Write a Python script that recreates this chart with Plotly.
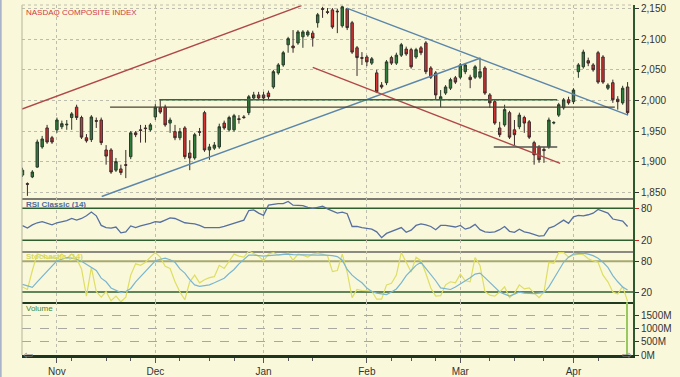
import plotly.graph_objects as go

# ---------------- data ----------------
opens = [1878,1864,1875,1891,1924,1955,1939,1952,1957,1960,1972,1989,1972,1939,1936,1967,1968,1919,1919,1886,
         1888,1895,1908,1947,1952,1955,1952,1973,1988,1989,1963,1949,1939,1955,1914,1906,1949,1980,1919,1922,
         1924,1963,1952,1952,1970,1973,1980,2004,2009,2009,2012,2022,2045,2058,2091,2089,2094,2104,2107,2110,
         2127,2150,2145,2148,2146,2122,2150,2127,2086,2070,2071,2061,2045,2025,2029,2070,2061,2074,2084,2083,
         2071,2086,2094,2053,2045,2001,2012,2020,2037,2038,2047,2038,2038,2038,2053,2009,1998,1955,1960,1980,
         1952,1957,1972,1965,1931,1924,1920,1924,1963,1976,1988,2001,1998,2047,2055,2065,2058,2078,2071,2020,
         2029,2002,1996,2022]
highs = [1890,1866,1886,1936,1942,1960,1942,1972,1967,1968,1981,1993,1975,1945,1976,1972,1972,1927,1922,1906,
         1895,1919,1950,1950,1960,1960,1963,1994,2001,1993,1972,1960,1955,1958,1935,1947,1955,1983,1929,1932,
         1962,1967,1975,1978,1976,1976,2009,2014,2014,2014,2016,2050,2061,2081,2104,2115,2115,2115,2115,2114,
         2143,2153,2151,2151,2150,2155,2151,2130,2089,2079,2074,2071,2050,2030,2066,2073,2078,2094,2088,2086,
         2086,2089,2097,2056,2048,2017,2025,2037,2040,2061,2061,2042,2058,2070,2056,2012,2001,1965,1993,1983,
         1968,1980,1975,1968,1934,1927,1924,1972,1966,1996,2004,2006,2020,2061,2083,2070,2061,2081,2074,2028,
         2034,2007,2024,2030]
lows = [1875,1844,1873,1890,1921,1929,1929,1947,1953,1952,1952,1968,1937,1931,1932,1955,1927,1895,1880,1883,
        1878,1873,1904,1940,1931,1931,1949,1968,1978,1957,1947,1935,1935,1904,1886,1903,1942,1916,1903,1919,
        1921,1952,1949,1949,1962,1970,1976,2001,2001,1999,2001,2019,2042,2055,2078,2078,2091,2086,2104,2088,
        2119,2135,2141,2117,2110,2119,2115,2076,2040,2058,2056,2058,2012,2019,2025,2058,2058,2071,2073,2052,
        2068,2074,2043,2035,2001,1989,2009,2017,2027,2035,2043,2020,2035,2035,2009,1988,1960,1940,1957,1937,
        1927,1953,1947,1937,1895,1898,1898,1921,1961,1973,1985,1993,1994,2037,2052,2056,2047,2027,2027,2017,
        1996,1985,1993,1976]
closes = [1886,1863,1883,1932,1937,1932,1932,1968,1962,1961,1978,1972,1940,1934,1973,1966,1931,1909,1883,1900,
          1882,1894,1947,1944,1951,1954,1960,1989,1981,1960,1968,1939,1949,1908,1906,1944,1948,1919,1924,1927,
          1957,1955,1972,1975,1969,1972,2006,2009,2004,2004,2006,2047,2058,2078,2101,2086,2112,2112,2112,2102,
          2140,2149,2144,2120,2145,2153,2119,2079,2070,2069,2063,2068,2014,2022,2063,2061,2074,2091,2076,2055,
          2083,2078,2047,2038,2009,2006,2022,2034,2030,2058,2058,2034,2055,2047,2012,1996,1963,1944,1985,1940,
          1944,1976,1963,1940,1911,1903,1918,1968,1964,1993,2001,1996,2017,2058,2079,2061,2050,2030,2030,2025,
          2001,1998,2020,1980]

rsi = [47.6,43,49,53,55,52,49,53,55,57,61,58,61,66,73,66,48,44,43,45,
       34,36,47,44,47,49,52,55,54,58,62,61,57,53,52,51,48,44,44,44,
       44,46,49,52,55,58,76,77,71,67,86,88,89,89,93,86,86,85,82,80,
       82,84,79,75,71,73,70,46,46,44,43,41,36,25,33,37,41,44,35,39,
       48,51,49,46,40,48,48,46,45,48,41,44,50,40,36,35,36,40,46,37,
       35,41,36,34,31,28,29,43,46,52,58,52,64,67,66,68,71,78,74,71,
       60,58,56,46]

stoch_k = [30,25,62,94,91,85,88,85,94,86,94,85,65,12,68,21,10,21,3,12,
           1,10,53,75,72,78,88,97,88,70,66,40,20,5,40,53,38,44,48,50,
           72,66,80,94,90,88,100,95,90,81,94,97,92,94,96,82,94,92,88,94,
           96,94,91,60,62,94,59,9,25,23,22,22,6,6,34,37,53,97,78,59,
           88,81,56,28,12,13,34,40,38,55,42,40,87,72,21,14,12,20,30,9,
           18,34,26,28,18,9,20,78,76,97,97,88,92,94,93,85,81,78,53,40,
           20,16,31,2]

stoch_d = [35,32,29,40,50,62,72,81,84,87,86,84,80,74,68,62,47,40,28,23,
           19,21,27,40,50,62,72,81,84,86,83,78,65,57,44,34,31,32,34,38,
           42,47,56,64,75,84,92,92,91,90,91,92,92,93,94,93,92.6,92,92,92,
           92,92.6,92,91,89,82,64,53,45,38,28,21,18,16,15,20,26,38,52,62,
           72,78,66,56,42,28,26,25,30,36,41,48,55,57,48,38,28,20,16,12,
           16,20,18,17,17,18,19,30,47,62,78,88,94,95,96,94,91,86,78,68,
           52,40,30,24]

volume_m = [0] * 123 + [2000]

month_labels = ["Nov", "Dec", "Jan", "Feb", "Mar", "Apr"]
month_idx = [7, 27, 49, 70, 89, 112]
week_idx = [10, 17, 22, 32, 38, 43, 54, 59, 75, 79, 84, 95, 100, 106, 117]

price_ticks = [1850, 1900, 1950, 2000, 2050, 2100, 2150]
osc_ticks = [20, 80]
vol_ticks = [0, 500, 1000, 1500]
vol_labels = ["0M", "500M", "1000M", "1500M"]

# trend lines drawn on the price panel: (x indices, prices, colour)
trend_lines = [
    ([-0.1, 56.7], [1986, 2155], "#b04848"),
    ([16.1, 93.0], [1843, 2069], "#5b86aa"),
    ([65.9, 123.1], [2151, 1976], "#5b86aa"),
    ([59.0, 109.3], [2054, 1897], "#b04848"),
    ([27.8, 108.7], [2001, 2001], "#2f6b3a"),
    ([17.8, 120.4], [1989, 1989], "#4a4232"),
    ([95.8, 108.7], [1924, 1924], "#555550"),
]

idx = list(range(len(closes)))

# ---------------- geometry ----------------
W, H = 680, 377
def py(p):
    return 1 - p / H
x_dom = [22 / W, 633 / W]
price_dom = [py(197.7), py(5)]
rsi_dom = [py(251), price_dom[0]]
sto_dom = [py(302.3), rsi_dom[0]]
vol_dom = [py(355), sto_dom[0]]
xr = [-0.1, 124.1]

BG = "#FAF8DB"
AX_GREEN = "#2d5a2d"
GRID = "#bdbdae"
FONT = "Liberation Sans, Arial, sans-serif"

fig = go.Figure()

for xs, ys, col in trend_lines:
    fig.add_trace(go.Scatter(x=xs, y=ys, mode="lines", line=dict(color=col, width=1.4),
                             xaxis="x", yaxis="y", hoverinfo="skip"))

fig.add_trace(go.Candlestick(
    x=idx, open=opens, high=highs, low=lows, close=closes,
    increasing=dict(fillcolor="#2f7d3c", line=dict(color="#2a3a2a", width=1)),
    decreasing=dict(fillcolor="#d83232", line=dict(color="#3a2a2a", width=1)),
    whiskerwidth=0, xaxis="x", yaxis="y"))

fig.add_trace(go.Scatter(x=idx, y=rsi, mode="lines", line=dict(color="#56709f", width=1.3),
                         xaxis="x2", yaxis="y2"))
fig.add_trace(go.Scatter(x=idx, y=stoch_k, mode="lines", line=dict(color="#dede62", width=1.2),
                         xaxis="x3", yaxis="y3"))
fig.add_trace(go.Scatter(x=idx, y=stoch_d, mode="lines", line=dict(color="#7ab6cf", width=1.2),
                         xaxis="x3", yaxis="y3"))
fig.add_trace(go.Bar(x=idx, y=volume_m, width=0.3, marker=dict(color="#98c860", line=dict(width=0)),
                     xaxis="x4", yaxis="y4"))

def xaxis(anchor, dom_bottom_line_color, lw, show_labels=False):
    d = dict(domain=x_dom, range=xr, anchor=anchor, tickmode="array", tickvals=month_idx,
             ticktext=month_labels, showticklabels=show_labels, showgrid=True, gridcolor=GRID,
             griddash="dot", gridwidth=1, zeroline=False, showline=True, automargin=False,
             linecolor=dom_bottom_line_color, linewidth=lw, ticks="", fixedrange=True)
    return d

right_axis = dict(side="right", showline=True, linecolor=AX_GREEN, linewidth=2, ticks="outside",
                  ticklen=4, tickcolor="#333333", zeroline=False, automargin=False,
                  tickfont=dict(family=FONT, size=10, color="#333333"))

layout = dict(
    width=W, height=H, autosize=False, margin=dict(l=0, r=0, t=0, b=0, pad=0, autoexpand=False),
    paper_bgcolor=BG, plot_bgcolor=BG, showlegend=False, bargap=0,
    font=dict(family=FONT),
    xaxis=dict(**xaxis("y", "#7a7a70", 2), rangeslider=dict(visible=False)),
    xaxis2=dict(**xaxis("y2", "#8a8a80", 2), matches="x"),
    xaxis3=dict(**xaxis("y3", "#203a20", 2), matches="x"),
    xaxis4=dict(**xaxis("y4", "#1e351e", 3, True), matches="x"),
    yaxis=dict(domain=price_dom, range=[1841, 2156], tickvals=price_ticks, tickformat=",",
               showgrid=True, gridcolor=GRID, griddash="dot", anchor="x", **right_axis),
    yaxis2=dict(domain=rsi_dom, range=[0, 100], tickvals=osc_ticks, showgrid=False, anchor="x2",
                **{**right_axis, "tickcolor": "#cc2222"}),
    yaxis3=dict(domain=sto_dom, range=[0, 100], tickvals=osc_ticks, showgrid=False, anchor="x3",
                **right_axis),
    yaxis4=dict(domain=vol_dom, range=[0, 1980], tickvals=vol_ticks, ticktext=vol_labels,
                showgrid=True, gridcolor="#a8a8a0", griddash="dash", anchor="x4", **right_axis),
)
fig.update_layout(**layout)
fig.update_layout(xaxis4=dict(ticks="outside", ticklen=5, tickcolor="#555555",
                              tickfont=dict(family=FONT, size=10, color="#333333"),
                              minor=dict(tickmode="array", tickvals=week_idx, ticks="outside",
                                         ticklen=3, tickcolor="#555555", showgrid=False)))

shapes = []
for lvl in osc_ticks:
    shapes.append(dict(type="line", xref="x2 domain", x0=0, x1=1, yref="y2", y0=lvl, y1=lvl,
                       line=dict(color="#2e5e2e", width=1.5), layer="below"))
shapes.append(dict(type="line", xref="x3 domain", x0=0, x1=1, yref="y3", y0=osc_ticks[1], y1=osc_ticks[1],
                   line=dict(color="#a8a870", width=2), layer="below"))
shapes.append(dict(type="line", xref="x3 domain", x0=0, x1=1, yref="y3", y0=osc_ticks[0], y1=osc_ticks[0],
                   line=dict(color="#2e5e2e", width=1.5), layer="below"))
# frame
shapes.append(dict(type="line", xref="paper", yref="paper", x0=x_dom[0], x1=x_dom[0],
                   y0=vol_dom[0], y1=price_dom[1], line=dict(color="#b4b49c", width=1)))
shapes.append(dict(type="line", xref="paper", yref="paper", x0=x_dom[0], x1=x_dom[1],
                   y0=price_dom[1], y1=price_dom[1], line=dict(color="#c0c0a8", width=1, dash="dot")))
shapes.append(dict(type="line", xref="paper", yref="paper", x0=0.001, x1=0.001, y0=0, y1=1,
                   line=dict(color="#a9b4c8", width=2)))
fig.update_layout(shapes=shapes)

ann = [
    dict(text="NASDAQ COMPOSITE INDEX", x=24 / W, y=py(12), color="#d23a3a", bold=False),
    dict(text="RSI Classic (14)", x=24 / W, y=py(205), color="#52699c", bold=True),
    dict(text="Stochastic (14)", x=24 / W, y=py(256), color="#d8d860", bold=True),
    dict(text="Volume", x=24 / W, y=py(308), color="#3a8a3a", bold=False),
]
annotations = []
for a in ann:
    t = "<b>%s</b>" % a["text"] if a["bold"] else a["text"]
    annotations.append(dict(text=t, x=a["x"], y=a["y"], xref="paper", yref="paper", xanchor="left",
                            yanchor="middle", showarrow=False,
                            font=dict(family=FONT, size=8, color=a["color"])))
annotations.append(dict(text="⇦", x=21 / W, y=py(355), xref="paper", yref="paper", xanchor="left",
                        yanchor="middle", showarrow=False, font=dict(family="DejaVu Sans", size=12, color="#808080")))
annotations.append(dict(text="⇨", x=634 / W, y=py(355), xref="paper", yref="paper", xanchor="right",
                        yanchor="middle", showarrow=False, font=dict(family="DejaVu Sans", size=12, color="#808080")))
fig.update_layout(annotations=annotations)

fig.write_html("out.html", config={"displayModeBar": False},
               post_script="document.body.style.margin='0';document.body.style.padding='0';"
                           "document.body.style.overflow='hidden';")
